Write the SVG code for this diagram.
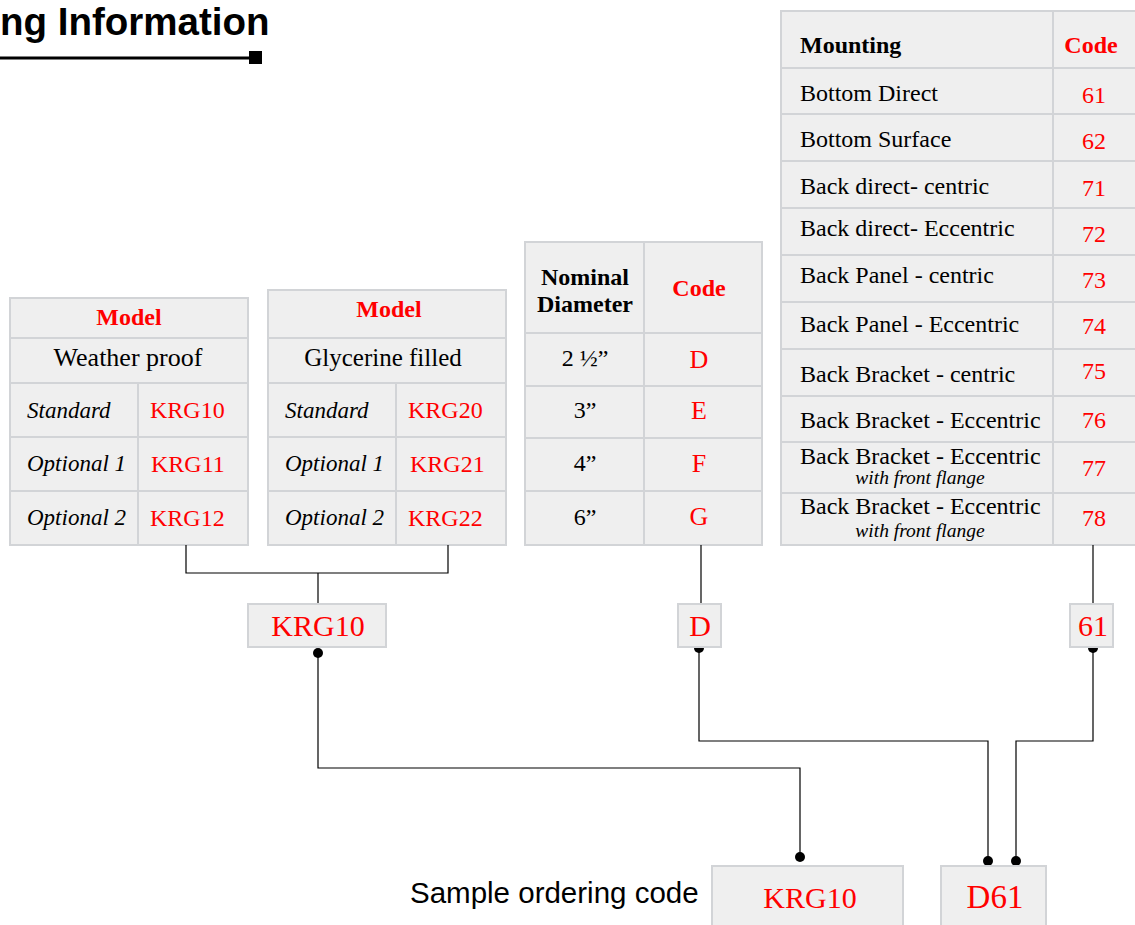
<svg xmlns="http://www.w3.org/2000/svg" width="1135" height="925" viewBox="0 0 1135 925">
<style>
.c{fill:#efefef;stroke:#d2d4d7;stroke-width:2}
.t{font-family:"Liberation Serif",serif;font-size:23px;fill:#000}
.i{font-style:italic}
.r{fill:#ff0000}
.b{font-weight:bold}
.m{text-anchor:middle}
.s24{font-size:24px}
.s25{font-size:25px}
.s26{font-size:26px}
.s30{font-size:30px}
.fl{font-size:19.5px}
.ln{fill:none;stroke:#000;stroke-width:1.2}
</style>
<g id="title">
<text x="0" y="35" font-family="Liberation Sans,Arial,sans-serif" font-weight="bold" font-size="38.5" fill="#000">ng Information</text>
<line x1="0" y1="58" x2="252" y2="58" stroke="#000" stroke-width="3"/>
<rect x="249" y="51" width="13" height="13" fill="#000"/>
</g>
<g id="table-weather">
<rect class="c" x="10" y="298" width="238" height="40"/>
<rect class="c" x="10" y="338" width="238" height="45"/>
<rect class="c" x="10" y="383" width="128" height="54"/><rect class="c" x="138" y="383" width="110" height="54"/>
<rect class="c" x="10" y="437" width="128" height="54"/><rect class="c" x="138" y="437" width="110" height="54"/>
<rect class="c" x="10" y="491" width="128" height="54"/><rect class="c" x="138" y="491" width="110" height="54"/>
<text class="t b r m s24" x="129" y="325">Model</text>
<text class="t m s26" x="128" y="366">Weather proof</text>
<text class="t i" x="27" y="418">Standard</text><text class="t r s24" x="150" y="418">KRG10</text>
<text class="t i" x="27" y="471">Optional 1</text><text class="t r s24" x="151" y="472">KRG11</text>
<text class="t i" x="27" y="525">Optional 2</text><text class="t r s24" x="150" y="526">KRG12</text>
</g>
<g id="table-glycerine">
<rect class="c" x="268" y="290" width="238" height="48"/>
<rect class="c" x="268" y="338" width="238" height="45"/>
<rect class="c" x="268" y="383" width="128" height="54"/><rect class="c" x="396" y="383" width="110" height="54"/>
<rect class="c" x="268" y="437" width="128" height="54"/><rect class="c" x="396" y="437" width="110" height="54"/>
<rect class="c" x="268" y="491" width="128" height="54"/><rect class="c" x="396" y="491" width="110" height="54"/>
<text class="t b r m s24" x="389" y="317">Model</text>
<text class="t m s25" x="383" y="366">Glycerine filled</text>
<text class="t i" x="285" y="418">Standard</text><text class="t r s24" x="408" y="418">KRG20</text>
<text class="t i" x="285" y="471">Optional 1</text><text class="t r s24" x="410" y="472">KRG21</text>
<text class="t i" x="285" y="525">Optional 2</text><text class="t r s24" x="408" y="526">KRG22</text>
</g>
<g id="table-diameter">
<rect class="c" x="525" y="242" width="119" height="91"/><rect class="c" x="644" y="242" width="118" height="91"/>
<rect class="c" x="525" y="333" width="119" height="53"/><rect class="c" x="644" y="333" width="118" height="53"/>
<rect class="c" x="525" y="386" width="119" height="52"/><rect class="c" x="644" y="386" width="118" height="52"/>
<rect class="c" x="525" y="438" width="119" height="53"/><rect class="c" x="644" y="438" width="118" height="53"/>
<rect class="c" x="525" y="491" width="119" height="54"/><rect class="c" x="644" y="491" width="118" height="54"/>
<text class="t b m s24" x="585" y="285">Nominal</text>
<text class="t b m s24" x="585" y="312">Diameter</text>
<text class="t b r m s24" x="699" y="296">Code</text>
<text class="t m s24" x="585" y="366">2 ½”</text><text class="t r m s26" x="699" y="368">D</text>
<text class="t m s24" x="585" y="418">3”</text><text class="t r m s26" x="699" y="419">E</text>
<text class="t m s24" x="585" y="471">4”</text><text class="t r m s26" x="699" y="472">F</text>
<text class="t m s24" x="585" y="525">6”</text><text class="t r m s26" x="699" y="525">G</text>
</g>
<g id="table-mounting">
<rect class="c" x="781" y="11" width="272" height="57"/><rect class="c" x="1053" y="11" width="90" height="57"/>
<rect class="c" x="781" y="68" width="272" height="46"/><rect class="c" x="1053" y="68" width="90" height="46"/>
<rect class="c" x="781" y="114" width="272" height="47"/><rect class="c" x="1053" y="114" width="90" height="47"/>
<rect class="c" x="781" y="161" width="272" height="47"/><rect class="c" x="1053" y="161" width="90" height="47"/>
<rect class="c" x="781" y="208" width="272" height="47"/><rect class="c" x="1053" y="208" width="90" height="47"/>
<rect class="c" x="781" y="255" width="272" height="47"/><rect class="c" x="1053" y="255" width="90" height="47"/>
<rect class="c" x="781" y="302" width="272" height="47"/><rect class="c" x="1053" y="302" width="90" height="47"/>
<rect class="c" x="781" y="349" width="272" height="47"/><rect class="c" x="1053" y="349" width="90" height="47"/>
<rect class="c" x="781" y="396" width="272" height="46"/><rect class="c" x="1053" y="396" width="90" height="46"/>
<rect class="c" x="781" y="442" width="272" height="51"/><rect class="c" x="1053" y="442" width="90" height="51"/>
<rect class="c" x="781" y="493" width="272" height="52"/><rect class="c" x="1053" y="493" width="90" height="52"/>
<text class="t b s24" x="800" y="53">Mounting</text><text class="t b r m s24" x="1091" y="53">Code</text>
<text class="t s24" x="800" y="101">Bottom Direct</text><text class="t r m s24" x="1094" y="103">61</text>
<text class="t s24" x="800" y="147">Bottom Surface</text><text class="t r m s24" x="1094" y="149">62</text>
<text class="t s24" x="800" y="194">Back direct- centric</text><text class="t r m s24" x="1094" y="196">71</text>
<text class="t s24" x="800" y="236">Back direct- Eccentric</text><text class="t r m s24" x="1094" y="242">72</text>
<text class="t s24" x="800" y="283">Back Panel - centric</text><text class="t r m s24" x="1094" y="288">73</text>
<text class="t s24" x="800" y="332">Back Panel - Eccentric</text><text class="t r m s24" x="1094" y="334">74</text>
<text class="t s24" x="800" y="382">Back Bracket - centric</text><text class="t r m s24" x="1094" y="379">75</text>
<text class="t s24" x="800" y="428">Back Bracket - Eccentric</text><text class="t r m s24" x="1094" y="428">76</text>
<text class="t s24" x="800" y="464">Back Bracket - Eccentric</text>
<text class="t i m fl" x="920" y="484">with front flange</text><text class="t r m s24" x="1094" y="476">77</text>
<text class="t s24" x="800" y="514">Back Bracket - Eccentric</text>
<text class="t i m fl" x="920" y="537">with front flange</text><text class="t r m s24" x="1094" y="526">78</text>
</g>
<g id="connectors">
<polyline class="ln" points="186,545 186,573 448,573 448,545"/>
<line class="ln" x1="318" y1="573" x2="318" y2="604"/>
<line class="ln" x1="701" y1="545" x2="701" y2="604"/>
<line class="ln" x1="1093" y1="545" x2="1093" y2="604"/>
<polyline class="ln" points="318,653 318,768 800,768 800,857"/>
<polyline class="ln" points="699,648 699,741 988,741 988,861"/>
<polyline class="ln" points="1093,648 1093,741 1016,741 1016,861"/>
<circle cx="318" cy="653" r="5"/>
<circle cx="800" cy="857" r="5"/>
<circle cx="699" cy="648" r="5"/>
<circle cx="988" cy="861" r="5"/>
<circle cx="1093" cy="648" r="5"/>
<circle cx="1016" cy="861" r="5"/>
</g>
<g id="box-krg10">
<rect class="c" x="248" y="604" width="138" height="43"/>
<text class="t r m s30" x="318" y="636">KRG10</text>
</g>
<g id="box-d">
<rect class="c" x="678" y="604" width="43" height="43"/>
<text class="t r m s30" x="700" y="636">D</text>
</g>
<g id="box-61">
<rect class="c" x="1070" y="604" width="43" height="43"/>
<text class="t r m s30" x="1093" y="636">61</text>
</g>
<g id="sample">
<text x="410" y="903" font-family="Liberation Sans,Arial,sans-serif" font-size="29.5" fill="#000">Sample ordering code</text>
<rect class="c" x="712" y="866" width="191" height="70"/>
<text class="t r m s30" x="810" y="908">KRG10</text>
<rect class="c" x="941" y="866" width="105" height="70"/>
<text class="t r m" x="995" y="908" style="font-size:33px">D61</text>
</g>
</svg>
